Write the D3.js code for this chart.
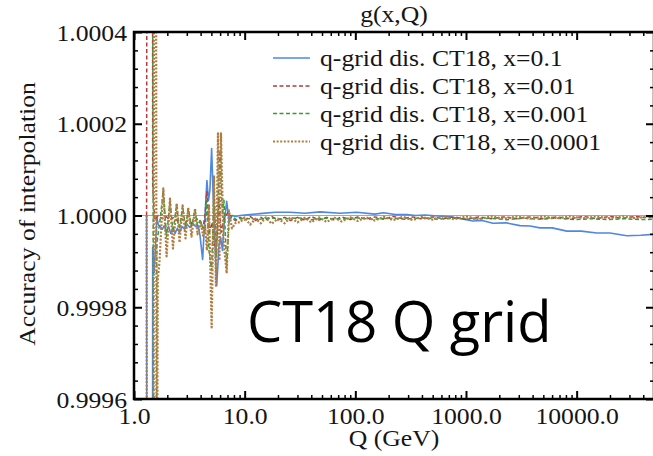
<!DOCTYPE html>
<html>
<head>
<meta charset="utf-8">
<script src="https://cdn.jsdelivr.net/npm/d3@7"></script>
<style>
  body { margin: 0; background: #fff; }
  svg { display: block; }
</style>
</head>
<body>
<svg class="chart" width="653" height="456"></svg>
<script>
// tick labels
let xMajor = [1, 10, 100, 1000, 10000];
let yMajor = [0.9996, 0.9998, 1.0, 1.0002, 1.0004];

let legendNames = [
  'q-grid dis. CT18, x=0.1',
  'q-grid dis. CT18, x=0.01',
  'q-grid dis. CT18, x=0.001',
  'q-grid dis. CT18, x=0.0001'
];

// x=0.1 (solid blue)
let blueQ = [1.30, 1.31, 1.47, 1.475, 1.50, 1.525, 1.56, 1.61, 1.66, 1.72, 1.80, 1.88, 1.96, 2.05, 2.15, 2.25, 2.35, 2.46, 2.58, 2.72, 2.86, 3.02, 3.2, 3.4, 3.6, 3.8, 3.95, 4.17, 4.38, 4.56, 4.71, 4.85, 5.03, 5.28, 5.59, 5.86, 6.07, 6.3, 6.5, 6.88, 7.21, 7.68, 8.34, 9.07, 11.2, 13.75, 18.8, 25.7, 35, 47.9, 72.6, 103, 150, 180, 230, 293, 350, 425, 560, 715, 900, 1154, 1400, 1750, 2300, 3069, 3800, 4652, 6000, 8154, 11000, 15222, 20000, 28414, 38000, 50000];
let blueV = [1.0, 0.999, 0.999, 0.99993, 0.99990, 0.999876, 0.99993, 0.999996, 0.99998, 0.999976, 0.99997, 0.999978, 0.999963, 0.999976, 0.999961, 0.999974, 0.999961, 0.999972, 0.999963, 0.999976, 0.99997, 0.99998, 0.999974, 0.999983, 0.999976, 0.999978, 0.999956, 0.999904, 1.0, 1.000076, 1.000033, 1.000055, 1.000146, 0.999989, 0.999847, 0.999935, 0.999952, 0.999924, 0.999978, 1.000031, 0.999989, 1.0, 0.999998, 1.0, 1.000002, 1.000004, 1.000007, 1.000007, 1.000005, 1.000008, 1.000005, 1.000007, 1.000003, 1.000006, 1.000002, 1.000002, 1.0, 1.000001, 0.999999, 0.999997, 0.999993, 0.999988, 0.999989, 0.999983, 0.999984, 0.999978, 0.999977, 0.999973, 0.999973, 0.999966, 0.999966, 0.999962, 0.999962, 0.999956, 0.999957, 0.999959];

// x=0.01 (red dashed)
let redQ = [1.30, 1.31, 1.47, 1.475, 1.50, 1.55, 1.65, 1.8, 1.95, 2.1, 2.3, 2.5, 2.7, 2.9, 3.1, 3.3, 3.55, 3.79, 4.03, 4.2, 4.38, 4.56, 4.81, 5.07, 5.34, 5.62, 5.86, 6.11, 6.5, 7.07, 7.68, 8.3, 9.1, 10, 11.2, 12.5, 14, 15.5, 17.5, 20, 23, 26, 30, 35, 40, 47, 55, 65, 75, 90, 105, 125, 150, 180, 220, 270, 330, 400, 500, 620, 780, 1000, 1300, 1700, 2200, 2900, 3800, 5000, 6600, 8700, 11500, 15000, 20000, 26000, 34000, 44000, 50000];
let redV = [1.0, 1.001, 1.001, 1.000069, 1.00003, 0.99999, 1.0, 0.999993, 0.999998, 0.99999, 0.999996, 0.999987, 0.999993, 0.999985, 0.999991, 0.999983, 0.999989, 0.999993, 0.999985, 0.999972, 1.0, 1.000052, 0.999963, 0.999985, 0.999935, 0.999946, 1.000039, 0.999963, 0.999993, 1.000007, 0.999993, 0.999989, 0.999996, 0.99999, 0.999998, 0.999989, 0.999996, 0.99999, 0.999998, 0.99999, 0.999996, 0.999989, 0.999996, 0.99999, 0.999998, 0.99999, 0.999996, 0.99999, 0.999997, 0.999991, 0.999997, 0.999992, 0.999997, 0.999992, 0.999998, 0.999993, 0.999997, 0.999992, 0.999997, 0.999993, 0.999997, 0.999992, 0.999997, 0.999993, 0.999997, 0.999993, 0.999997, 0.999993, 0.999997, 0.999993, 0.999998, 0.999993, 0.999998, 0.999994, 0.999998, 0.999995, 0.999997];

// x=0.001 (green dashed)
let greenQ = [1.46, 1.52, 1.58, 1.61, 1.72, 1.84, 1.97, 2.115, 2.25, 2.43, 2.58, 2.75, 2.92, 3.09, 3.31, 3.56, 3.75, 3.95, 4.2, 4.38, 4.56, 4.76, 5.03, 5.28, 5.56, 5.98, 6.3, 6.5, 6.88, 7.21, 7.68, 8.34, 10, 13, 17, 22, 30, 40, 55, 75, 100, 140, 200, 280, 400, 560, 800, 1100, 1600, 2300, 3300, 4700, 6600, 9500, 13500, 19000, 27000, 38000, 50000];
let greenV = [1.001, 0.999, 0.999, 0.99994, 0.99999, 1.000055, 0.999954, 1.000033, 0.999963, 1.000024, 0.99997, 1.00002, 0.999974, 1.000015, 0.999976, 1.000013, 0.999978, 0.999989, 0.999972, 0.999963, 1.000033, 0.999924, 0.99988, 1.000055, 0.999913, 1.000142, 1.0, 1.000033, 0.999887, 0.999985, 1.0, 0.999991, 0.999994, 0.999991, 0.999995, 0.999992, 0.999995, 0.999991, 0.999994, 0.999992, 0.999995, 0.999992, 0.999994, 0.999992, 0.999995, 0.999992, 0.999994, 0.999992, 0.999994, 0.999991, 0.999994, 0.999992, 0.999994, 0.999991, 0.999993, 0.999991, 0.999993, 0.999991, 0.999992];

// x=0.0001 (brown dotted)
let brownQ = [1.30, 1.305, 1.50, 1.52, 1.58, 1.60, 1.64, 1.70, 1.84, 1.97, 2.115, 2.25, 2.43, 2.58, 2.75, 2.92, 3.09, 3.31, 3.56, 3.75, 4.03, 4.2, 4.38, 4.56, 4.76, 5.03, 5.28, 5.5, 5.74, 5.92, 6.11, 6.43, 6.88, 7.21, 7.68, 8.34, 9.1, 10, 11.2, 12.5, 14, 15.5, 17.5, 20, 23, 26, 30, 35, 40, 47, 55, 65, 75, 90, 105, 125, 150, 180, 220, 270, 330, 400, 500, 620, 780, 1000, 1300, 1700, 2200, 2900, 3800, 5000, 6600, 8700, 11500, 15000, 20000, 26000, 34000, 44000, 50000];
let brownV = [1.0, 0.999, 0.999, 1.001, 1.001, 0.999, 0.99986, 0.9999, 1.000059, 0.999911, 1.000037, 0.999928, 1.000026, 0.999941, 1.000022, 0.99995, 1.000017, 0.999954, 1.000015, 0.999959, 0.999985, 0.999956, 0.999978, 0.999924, 1.000022, 0.999756, 1.000087, 0.999847, 1.000179, 0.999902, 1.000179, 0.999946, 0.999874, 1.000011, 0.999972, 0.999985, 0.999985, 0.999996, 0.99998, 0.999993, 0.999983, 0.999996, 0.999982, 0.999993, 0.999983, 0.999996, 0.999985, 0.999995, 0.999985, 0.999996, 0.999986, 0.999995, 0.999987, 0.999996, 0.999988, 0.999996, 0.999989, 0.999997, 0.99999, 0.999997, 0.99999, 0.999997, 0.999991, 0.999998, 0.999992, 0.999998, 0.999992, 0.999998, 0.999993, 0.999998, 0.999993, 0.999998, 0.999994, 0.999998, 0.999994, 0.999998, 0.999994, 0.999998, 0.999994, 0.999998, 0.999996];

let series = [
  { name: legendNames[0], q: blueQ, v: blueV, color: '#4f87e3', width: 1.6, dash: null },
  { name: legendNames[1], q: redQ, v: redV, color: '#b63a3e', width: 1.5, dash: '4,2.5' },
  { name: legendNames[2], q: greenQ, v: greenV, color: '#379a37', width: 1.5, dash: '4,2.5' },
  { name: legendNames[3], q: brownQ, v: brownV, color: '#b27c40', width: 2.2, dash: '2,1.6' }
];

let margin = { left: 134, top: 32, right: 654, bottom: 399 };
let stretch = 1.07;
let serif = '"Liberation Serif", "Times New Roman", serif';
let ink = '#151515';

let svg = d3.select('svg.chart');

let x = d3.scaleLog().domain([1, 50000]).range([margin.left, margin.right]);
let y = d3.scaleLinear().domain([0.9996, 1.0004]).range([margin.bottom, margin.top]);

svg.append('clipPath').attr('id', 'plotClip')
  .append('rect')
  .attr('x', margin.left).attr('y', margin.top)
  .attr('width', margin.right - margin.left)
  .attr('height', margin.bottom - margin.top);

// reference line at 1
svg.append('line')
  .attr('x1', margin.left).attr('x2', margin.right)
  .attr('y1', y(1)).attr('y2', y(1))
  .style('stroke', '#a8a8a8')
  .style('stroke-width', 1.2);

let line = d3.line()
  .x(d => x(d[0]))
  .y(d => y(d[1]));

svg.append('g')
  .attr('clip-path', 'url(#plotClip)')
  .selectAll('path.curve')
  .data(series)
  .enter()
  .append('path')
  .attr('class', 'curve')
  .attr('d', s => line(s.q.map((q, i) => [q, s.v[i]])))
  .style('fill', 'none')
  .style('stroke', s => s.color)
  .style('stroke-width', s => s.width)
  .style('stroke-dasharray', s => s.dash)
  .style('stroke-linejoin', 'round');

// minor tick positions
let xMinor = [];
xMajor.forEach(d => { for (let k = 2; k <= 9; k++) if (d * k <= 50000) xMinor.push(d * k); });
let yMinor = d3.range(0, 21).map(i => 0.9996 + i * 0.00004).filter((d, i) => i % 5 != 0);

function styleTicks(g) {
  g.select('.domain').remove();
  g.selectAll('line').style('stroke', '#000');
}

// bottom
svg.append('g').attr('transform', `translate(0,${margin.bottom})`)
  .call(d3.axisBottom(x).tickValues(xMinor).tickSize(-4).tickFormat(''))
  .call(styleTicks).selectAll('line').style('stroke-width', 1.5);
let xAx = svg.append('g').attr('transform', `translate(0,${margin.bottom})`)
  .call(d3.axisBottom(x).tickValues(xMajor).tickSize(-8).tickPadding(0).tickFormat(d3.format('.1f')))
  .call(styleTicks);
xAx.selectAll('line').style('stroke-width', 2);
xAx.selectAll('text')
  .attr('y', null).attr('dy', null)
  .attr('transform', `translate(0,25) scale(${stretch},1)`)
  .style('font-family', serif).style('font-size', '24px').style('fill', ink);

// top
svg.append('g').attr('transform', `translate(0,${margin.top})`)
  .call(d3.axisTop(x).tickValues(xMinor).tickSize(-4).tickFormat(''))
  .call(styleTicks).selectAll('line').style('stroke-width', 1.5);
svg.append('g').attr('transform', `translate(0,${margin.top})`)
  .call(d3.axisTop(x).tickValues(xMajor).tickSize(-8).tickFormat(''))
  .call(styleTicks).selectAll('line').style('stroke-width', 2);

// left
svg.append('g').attr('transform', `translate(${margin.left},0)`)
  .call(d3.axisLeft(y).tickValues(yMinor).tickSize(-4).tickFormat(''))
  .call(styleTicks).selectAll('line').style('stroke-width', 1.5);
let yAx = svg.append('g').attr('transform', `translate(${margin.left},0)`)
  .call(d3.axisLeft(y).tickValues(yMajor).tickSize(-8).tickFormat(d3.format('.4f')))
  .call(styleTicks);
yAx.selectAll('line').style('stroke-width', 2);
yAx.selectAll('text')
  .attr('x', null).attr('dy', null)
  .attr('transform', `translate(-7,8) scale(${stretch},1)`)
  .style('text-anchor', 'end')
  .style('font-family', serif).style('font-size', '24px').style('fill', ink);

// right
svg.append('g').attr('transform', `translate(${margin.right},0)`)
  .call(d3.axisRight(y).tickValues(yMinor).tickSize(-4).tickFormat(''))
  .call(styleTicks).selectAll('line').style('stroke-width', 1.5);
svg.append('g').attr('transform', `translate(${margin.right},0)`)
  .call(d3.axisRight(y).tickValues(yMajor).tickSize(-8).tickFormat(''))
  .call(styleTicks).selectAll('line').style('stroke-width', 2);

// frame
svg.append('rect')
  .attr('x', margin.left).attr('y', margin.top)
  .attr('width', margin.right - margin.left)
  .attr('height', margin.bottom - margin.top)
  .style('fill', 'none')
  .style('stroke', '#000')
  .style('stroke-width', 2.5);

// legend
let legendY = [58, 86, 113.5, 141.5];
let legend = svg.selectAll('g.legend')
  .data(series)
  .enter()
  .append('g')
  .attr('class', 'legend')
  .attr('transform', (d, i) => `translate(273,${legendY[i]})`);

legend.append('line')
  .attr('x1', 0).attr('x2', 37)
  .style('stroke', d => d.color)
  .style('stroke-width', d => d.width)
  .style('stroke-dasharray', d => d.dash);

legend.append('text')
  .attr('transform', `translate(47,8) scale(${stretch},1)`)
  .text(d => d.name)
  .style('font-family', serif).style('font-size', '24px').style('fill', ink);

// titles
svg.append('text')
  .attr('transform', `translate(394,22) scale(${stretch},1)`)
  .style('text-anchor', 'middle')
  .style('font-family', serif).style('font-size', '24px').style('fill', ink)
  .text('g(x,Q)');

svg.append('text')
  .attr('transform', `translate(394,446) scale(${stretch},1)`)
  .style('text-anchor', 'middle')
  .style('font-family', serif).style('font-size', '24px').style('fill', ink)
  .text('Q (GeV)');

svg.append('text')
  .attr('transform', `translate(35,214) rotate(-90) scale(${stretch},1)`)
  .style('text-anchor', 'middle')
  .style('font-family', serif).style('font-size', '24px').style('fill', ink)
  .text('Accuracy of interpolation');

svg.append('text')
  .attr('x', 247).attr('y', 342)
  .style('font-family', '"Open Sans", "Noto Sans", sans-serif')
  .style('font-size', '56px')
  .text('CT18 Q grid');
</script>
</body>
</html>
